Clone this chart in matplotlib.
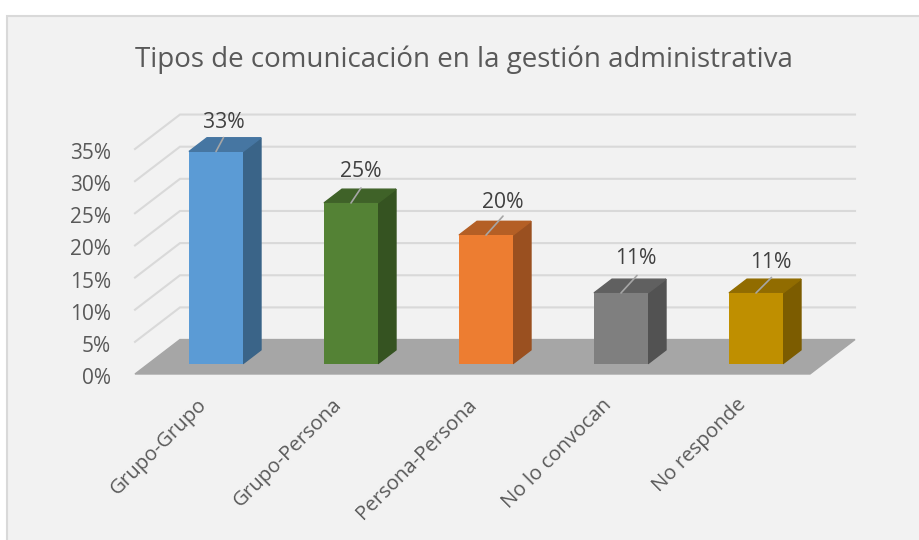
import matplotlib
matplotlib.use("Agg")
import matplotlib.pyplot as plt
from matplotlib.patches import Rectangle
from matplotlib.transforms import ScaledTranslation

plt.rcParams['font.family'] = ['Open Sans', 'DejaVu Sans']

title = "Tipos de comunicación en la gestión administrativa"
categories = ["Grupo-Grupo", "Grupo-Persona", "Persona-Persona", "No lo convocan", "No responde"]
values = [33, 25, 20, 11, 11]
y_ticks = [0, 5, 10, 15, 20, 25, 30, 35]
front_colors = ["#5b9bd5", "#548235", "#ed7d31", "#7f7f7f", "#bf8f00"]
top_colors = ["#4676a2", "#3f6228", "#b45f25", "#606060", "#916c00"]
side_colors = ["#3a6488", "#355321", "#9a5020", "#525252", "#7c5c00"]
leader_ends = [(7.5, 14), (10, 15), (17, 19), (16, 17.5), (15.5, 15.5)]
text_offsets = [(7.5, 29.5), (10, 31), (17, 33), (15, 34), (15, 30.5)]

W, H = 920, 540
fig = plt.figure(figsize=(W / 100, H / 100), dpi=100, facecolor="white")

# panel: its right and bottom edges run off the picture
fig.patches.append(Rectangle((7.5 / W, -20 / H), (W + 10) / W, (H - 15.5 + 20) / H, transform=fig.transFigure,
                             facecolor="#f2f2f2", edgecolor="#d9d9d9", linewidth=1.5, zorder=-5))

L, R, B, T = 135, 810, 374, 149
ax = fig.add_axes([L / W, 1 - B / H, (R - L) / W, (B - T) / H])
ax.patch.set_visible(False)
ax.set_xlim(-0.5, 4.5)
ax.set_ylim(0, 35)
for s in ax.spines.values():
    s.set_visible(False)

# oblique depth of the floor, in data units
DX = 1 / 3
DY = 5.36
BAR_W = 0.4
BAR_START = 0.3
BAR_DEPTH = 0.4

# floor
ax.fill([-0.5, 4.5, 4.5 + DX, -0.5 + DX], [0, 0, DY, DY], color="#a6a6a6", zorder=1, clip_on=False)

# gridlines
for t in y_ticks[1:]:
    ax.plot([-0.5, -0.5 + DX, 4.5 + DX], [t, t + DY, t + DY], color="#d9d9d9", lw=1.5,
            solid_joinstyle="miter", zorder=0.5, clip_on=False)

# bars
sx, sy = BAR_START * DX, BAR_START * DY
dx, dy = BAR_DEPTH * DX, BAR_DEPTH * DY
for i, v in enumerate(values):
    x0 = i - BAR_W / 2 + sx
    x1 = x0 + BAR_W
    ax.bar(x0 + BAR_W / 2, v, width=BAR_W, bottom=sy, color=front_colors[i], zorder=3, clip_on=False)
    ax.fill([x1, x1 + dx, x1 + dx, x1], [sy, sy + dy, sy + v + dy, sy + v],
            color=side_colors[i], zorder=2.5, clip_on=False)
    ax.fill([x0, x1, x1 + dx, x0 + dx], [sy + v, sy + v, sy + v + dy, sy + v + dy],
            color=top_colors[i], zorder=2.5, clip_on=False)
    ox, oy = leader_ends[i]
    ax.annotate("", xy=(i + sx, sy + v), xytext=(ox * 0.72, oy * 0.72), textcoords="offset points",
                arrowprops=dict(arrowstyle="-", color="#a6a6a6", lw=1.2, shrinkA=0, shrinkB=0),
                zorder=4, annotation_clip=False)
    tx, ty = text_offsets[i]
    ax.annotate(f"{v}%", xy=(i + sx, sy + v), xytext=(tx * 0.72, ty * 0.72),
                textcoords="offset points", ha="center", va="center", fontsize=15.2,
                color="#404040", zorder=5, annotation_clip=False)

# axes text
ax.set_yticks(y_ticks)
ax.set_yticklabels([f"{t}%" for t in y_ticks], fontsize=15, color="#595959")
ax.set_xticks(range(len(categories)))
ax.set_xticklabels(categories, fontsize=14.7, color="#595959", rotation=45, ha="right",
                   rotation_mode="anchor")
ax.tick_params(axis="both", length=0)
ax.tick_params(axis="y", pad=17.3)
ax.tick_params(axis="x", pad=15)

for lab in ax.get_yticklabels():
    lab.set_transform(lab.get_transform() + ScaledTranslation(0, -2 * 0.72 / 72, fig.dpi_scale_trans))
for lab in ax.get_xticklabels():
    lab.set_transform(lab.get_transform() + ScaledTranslation(-6 * 0.72 / 72, 0, fig.dpi_scale_trans))

fig.text(464 / W, 1 - 60 / H, title, ha="center", va="center", fontsize=19.95, color="#595959")

fig.savefig("out.png", dpi=100, facecolor="white")
